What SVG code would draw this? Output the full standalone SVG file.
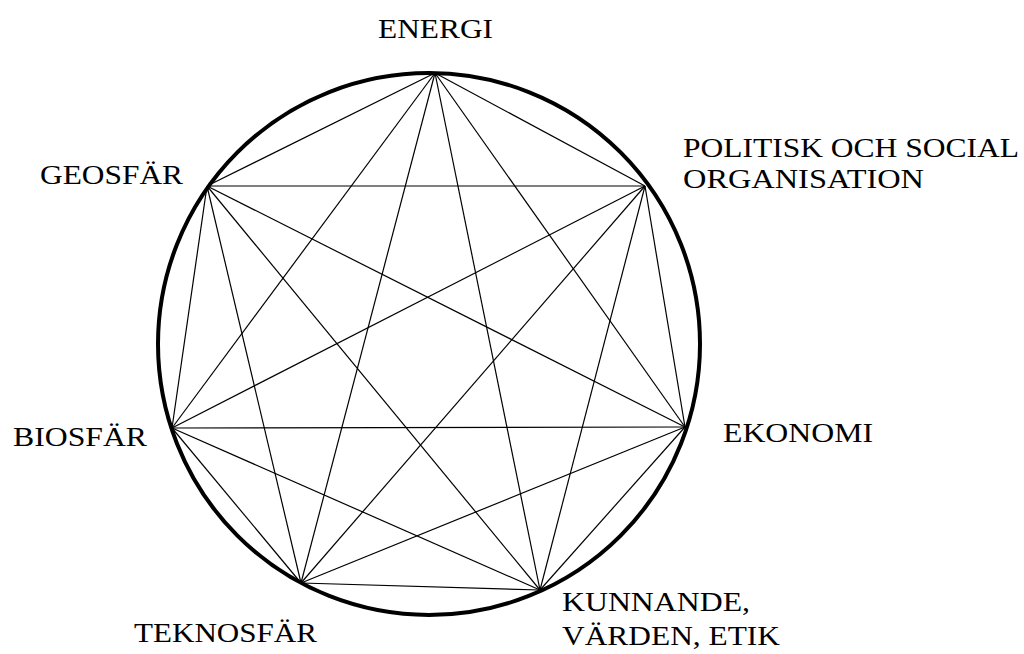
<svg xmlns="http://www.w3.org/2000/svg" width="1024" height="654" viewBox="0 0 1024 654">
<rect width="1024" height="654" fill="#fff"/>
<circle cx="429" cy="344" r="271" fill="none" stroke="#000" stroke-width="4"/>
<g id="connectors" stroke="#000" stroke-width="1.2">
<line x1="435" y1="73" x2="645" y2="186"/>
<line x1="435" y1="73" x2="685" y2="427"/>
<line x1="435" y1="73" x2="540" y2="590"/>
<line x1="435" y1="73" x2="301" y2="583"/>
<line x1="435" y1="73" x2="172" y2="428"/>
<line x1="435" y1="73" x2="207" y2="186"/>
<line x1="645" y1="186" x2="685" y2="427"/>
<line x1="645" y1="186" x2="540" y2="590"/>
<line x1="645" y1="186" x2="301" y2="583"/>
<line x1="645" y1="186" x2="172" y2="428"/>
<line x1="645" y1="186" x2="207" y2="186"/>
<line x1="685" y1="427" x2="540" y2="590"/>
<line x1="685" y1="427" x2="301" y2="583"/>
<line x1="685" y1="427" x2="172" y2="428"/>
<line x1="685" y1="427" x2="207" y2="186"/>
<line x1="540" y1="590" x2="301" y2="583"/>
<line x1="540" y1="590" x2="172" y2="428"/>
<line x1="540" y1="590" x2="207" y2="186"/>
<line x1="301" y1="583" x2="172" y2="428"/>
<line x1="301" y1="583" x2="207" y2="186"/>
<line x1="172" y1="428" x2="207" y2="186"/>
</g>
<g font-family="Liberation Serif, Times New Roman, serif" font-size="28" fill="#000" lengthAdjust="spacingAndGlyphs">
<g id="energi"><text x="378" y="38" textLength="115" lengthAdjust="spacingAndGlyphs">ENERGI</text></g>
<g id="politisk"><text x="683" y="157" textLength="336" lengthAdjust="spacingAndGlyphs">POLITISK OCH SOCIAL</text><text x="683" y="188" textLength="241" lengthAdjust="spacingAndGlyphs">ORGANISATION</text></g>
<g id="ekonomi"><text x="723" y="442" textLength="150" lengthAdjust="spacingAndGlyphs">EKONOMI</text></g>
<g id="kunnande"><text x="562" y="611" textLength="188" lengthAdjust="spacingAndGlyphs">KUNNANDE,</text><text x="562" y="645" textLength="218" lengthAdjust="spacingAndGlyphs">VÄRDEN, ETIK</text></g>
<g id="teknosfar"><text x="134" y="642" textLength="183" lengthAdjust="spacingAndGlyphs">TEKNOSFÄR</text></g>
<g id="biosfar"><text x="13" y="446" textLength="134" lengthAdjust="spacingAndGlyphs">BIOSFÄR</text></g>
<g id="geosfar"><text x="40" y="184" textLength="143" lengthAdjust="spacingAndGlyphs">GEOSFÄR</text></g>
</g>
</svg>
